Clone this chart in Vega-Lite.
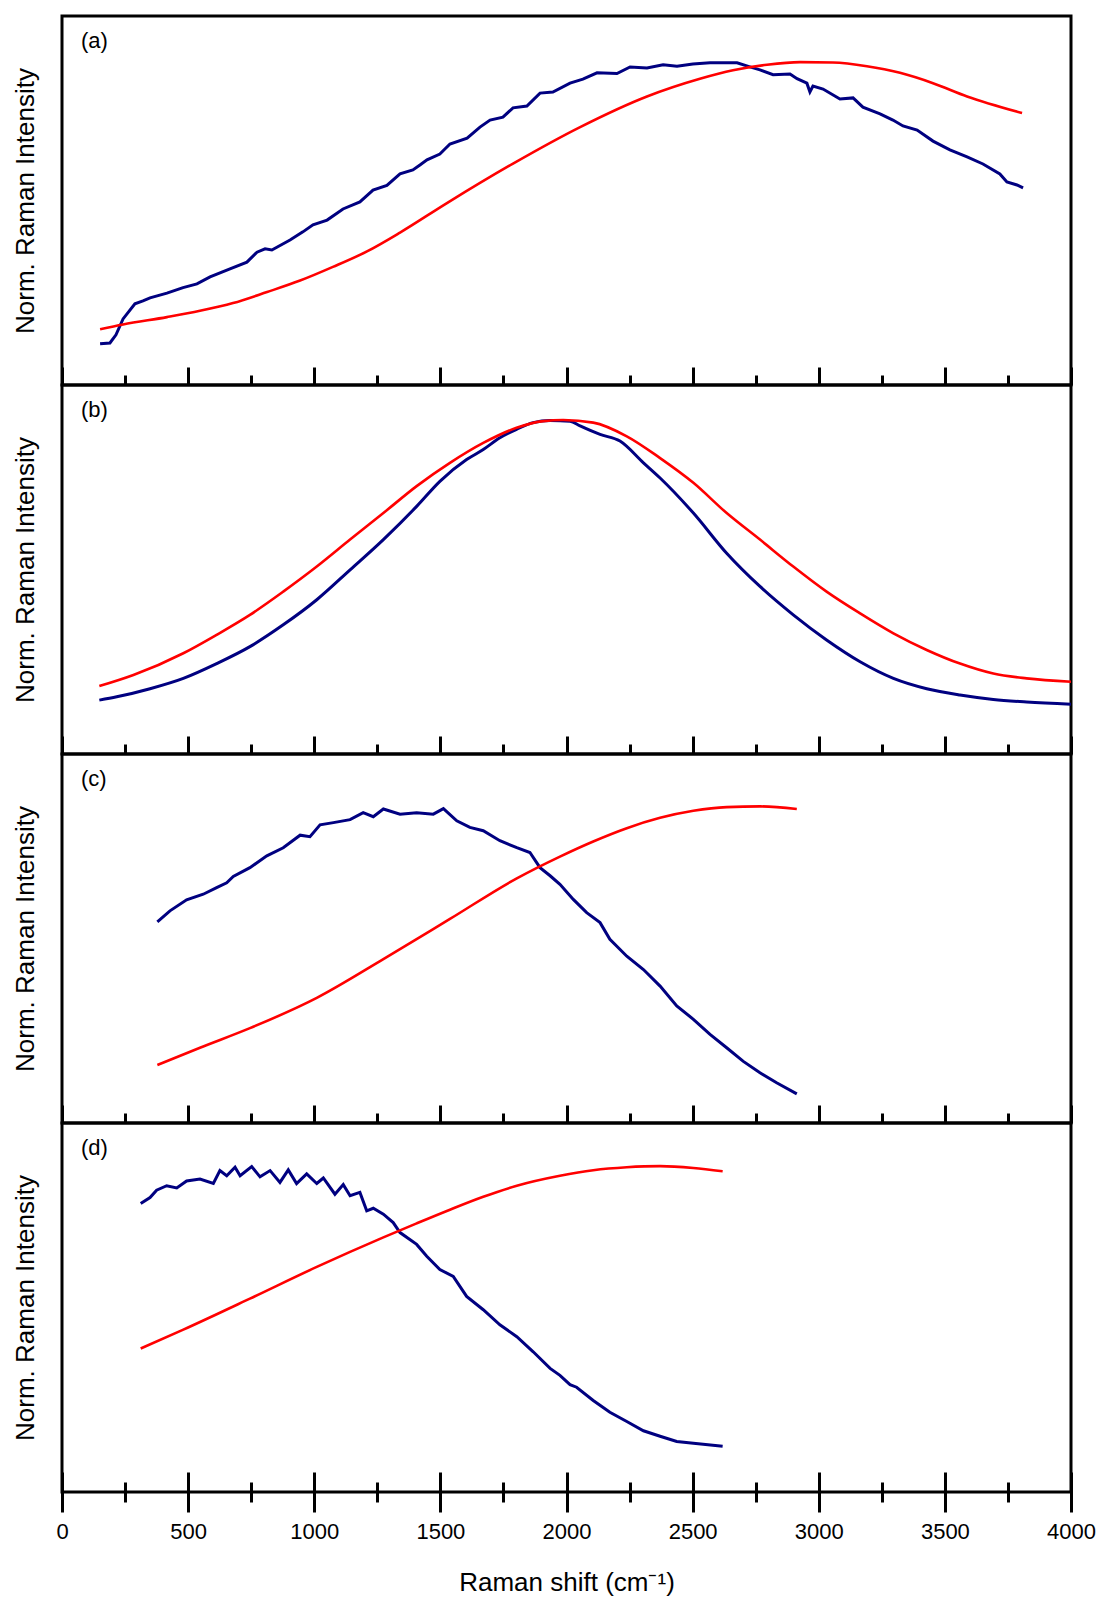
{
  "$schema": "https://vega.github.io/schema/vega-lite/v6.json",
  "background": "white",
  "padding": {"left": 10, "top": 14, "right": 0, "bottom": 0},
  "spacing": 0,
  "bounds": "flush",
  "config": {
    "view": {"stroke": "black", "strokeWidth": 3},
    "font": "Liberation Sans",
    "axis": {"labelFont": "Liberation Sans", "titleFont": "Liberation Sans", "labelColor": "black", "titleColor": "black", "tickColor": "black", "grid": false, "domain": false}
  },
  "datasets": {
    "a_meas": [
      {"shift":151,"intensity":0.112},{"shift":190,"intensity":0.114},{"shift":214,"intensity":0.136},{"shift":242,"intensity":0.179},{"shift":289,"intensity":0.220},{"shift":321,"intensity":0.228},{"shift":349,"intensity":0.236},{"shift":416,"intensity":0.249},{"shift":480,"intensity":0.264},{"shift":535,"intensity":0.274},{"shift":587,"intensity":0.293},{"shift":666,"intensity":0.315},{"shift":733,"intensity":0.333},{"shift":773,"intensity":0.360},{"shift":805,"intensity":0.369},{"shift":832,"intensity":0.366},{"shift":904,"intensity":0.393},{"shift":955,"intensity":0.415},{"shift":995,"intensity":0.434},{"shift":1051,"intensity":0.447},{"shift":1114,"intensity":0.477},{"shift":1181,"intensity":0.496},{"shift":1233,"intensity":0.528},{"shift":1288,"intensity":0.541},{"shift":1340,"intensity":0.572},{"shift":1391,"intensity":0.583},{"shift":1419,"intensity":0.596},{"shift":1447,"intensity":0.610},{"shift":1498,"intensity":0.626},{"shift":1538,"intensity":0.653},{"shift":1606,"intensity":0.669},{"shift":1657,"intensity":0.699},{"shift":1697,"intensity":0.718},{"shift":1748,"intensity":0.726},{"shift":1788,"intensity":0.751},{"shift":1843,"intensity":0.756},{"shift":1895,"intensity":0.791},{"shift":1946,"intensity":0.794},{"shift":2014,"intensity":0.818},{"shift":2065,"intensity":0.829},{"shift":2121,"intensity":0.846},{"shift":2200,"intensity":0.844},{"shift":2252,"intensity":0.862},{"shift":2319,"intensity":0.859},{"shift":2383,"intensity":0.868},{"shift":2438,"intensity":0.864},{"shift":2501,"intensity":0.870},{"shift":2569,"intensity":0.873},{"shift":2608,"intensity":0.873},{"shift":2676,"intensity":0.873},{"shift":2727,"intensity":0.862},{"shift":2767,"intensity":0.854},{"shift":2819,"intensity":0.841},{"shift":2886,"intensity":0.843},{"shift":2914,"intensity":0.830},{"shift":2953,"intensity":0.818},{"shift":2965,"intensity":0.794},{"shift":2977,"intensity":0.810},{"shift":3017,"intensity":0.802},{"shift":3084,"intensity":0.775},{"shift":3136,"intensity":0.778},{"shift":3175,"intensity":0.753},{"shift":3243,"intensity":0.735},{"shift":3294,"intensity":0.718},{"shift":3334,"intensity":0.702},{"shift":3390,"intensity":0.691},{"shift":3453,"intensity":0.661},{"shift":3520,"intensity":0.637},{"shift":3588,"intensity":0.618},{"shift":3651,"intensity":0.599},{"shift":3718,"intensity":0.572},{"shift":3746,"intensity":0.550},{"shift":3786,"intensity":0.542},{"shift":3810,"intensity":0.534}
    ],
    "a_fit": [
      {"shift":151,"intensity":0.151},{"shift":242,"intensity":0.164},{"shift":416,"intensity":0.184},{"shift":547,"intensity":0.201},{"shift":678,"intensity":0.222},{"shift":813,"intensity":0.252},{"shift":944,"intensity":0.283},{"shift":1074,"intensity":0.320},{"shift":1209,"intensity":0.362},{"shift":1340,"intensity":0.413},{"shift":1526,"intensity":0.493},{"shift":1788,"intensity":0.600},{"shift":2054,"intensity":0.699},{"shift":2319,"intensity":0.782},{"shift":2529,"intensity":0.830},{"shift":2660,"intensity":0.853},{"shift":2795,"intensity":0.868},{"shift":2926,"intensity":0.875},{"shift":3056,"intensity":0.874},{"shift":3191,"intensity":0.864},{"shift":3322,"intensity":0.846},{"shift":3453,"intensity":0.818},{"shift":3588,"intensity":0.782},{"shift":3806,"intensity":0.737}
    ],
    "b_meas": [
      {"shift":148,"intensity":0.146},{"shift":217,"intensity":0.155},{"shift":349,"intensity":0.177},{"shift":481,"intensity":0.205},{"shift":613,"intensity":0.245},{"shift":745,"intensity":0.291},{"shift":877,"intensity":0.350},{"shift":1010,"intensity":0.418},{"shift":1142,"intensity":0.499},{"shift":1274,"intensity":0.581},{"shift":1406,"intensity":0.671},{"shift":1498,"intensity":0.739},{"shift":1604,"intensity":0.798},{"shift":1670,"intensity":0.825},{"shift":1736,"intensity":0.857},{"shift":1802,"intensity":0.880},{"shift":1868,"intensity":0.898},{"shift":1935,"intensity":0.904},{"shift":2014,"intensity":0.902},{"shift":2054,"intensity":0.889},{"shift":2133,"intensity":0.866},{"shift":2212,"intensity":0.848},{"shift":2305,"intensity":0.789},{"shift":2371,"intensity":0.748},{"shift":2503,"intensity":0.653},{"shift":2635,"intensity":0.544},{"shift":2767,"intensity":0.454},{"shift":2899,"intensity":0.377},{"shift":3031,"intensity":0.309},{"shift":3164,"intensity":0.250},{"shift":3296,"intensity":0.205},{"shift":3428,"intensity":0.177},{"shift":3560,"intensity":0.160},{"shift":3692,"intensity":0.148},{"shift":3824,"intensity":0.141},{"shift":4000,"intensity":0.135}
    ],
    "b_fit": [
      {"shift":148,"intensity":0.184},{"shift":283,"intensity":0.214},{"shift":481,"intensity":0.273},{"shift":613,"intensity":0.323},{"shift":745,"intensity":0.377},{"shift":877,"intensity":0.440},{"shift":1010,"intensity":0.508},{"shift":1142,"intensity":0.581},{"shift":1274,"intensity":0.653},{"shift":1406,"intensity":0.726},{"shift":1538,"intensity":0.789},{"shift":1670,"intensity":0.843},{"shift":1802,"intensity":0.884},{"shift":1908,"intensity":0.902},{"shift":1987,"intensity":0.905},{"shift":2106,"intensity":0.898},{"shift":2239,"intensity":0.861},{"shift":2371,"intensity":0.802},{"shift":2503,"intensity":0.735},{"shift":2635,"intensity":0.653},{"shift":2767,"intensity":0.581},{"shift":2899,"intensity":0.508},{"shift":3031,"intensity":0.440},{"shift":3164,"intensity":0.381},{"shift":3296,"intensity":0.327},{"shift":3428,"intensity":0.282},{"shift":3560,"intensity":0.245},{"shift":3692,"intensity":0.218},{"shift":3824,"intensity":0.205},{"shift":4000,"intensity":0.196}
    ],
    "c_meas": [
      {"shift":378,"intensity":0.545},{"shift":428,"intensity":0.575},{"shift":494,"intensity":0.605},{"shift":560,"intensity":0.620},{"shift":613,"intensity":0.638},{"shift":653,"intensity":0.651},{"shift":679,"intensity":0.668},{"shift":745,"intensity":0.692},{"shift":812,"intensity":0.724},{"shift":877,"intensity":0.746},{"shift":944,"intensity":0.780},{"shift":983,"intensity":0.776},{"shift":1023,"intensity":0.808},{"shift":1076,"intensity":0.814},{"shift":1142,"intensity":0.822},{"shift":1194,"intensity":0.841},{"shift":1234,"intensity":0.830},{"shift":1274,"intensity":0.851},{"shift":1340,"intensity":0.837},{"shift":1406,"intensity":0.841},{"shift":1472,"intensity":0.837},{"shift":1512,"intensity":0.852},{"shift":1565,"intensity":0.819},{"shift":1617,"intensity":0.801},{"shift":1670,"intensity":0.792},{"shift":1736,"intensity":0.765},{"shift":1803,"intensity":0.746},{"shift":1855,"intensity":0.733},{"shift":1895,"intensity":0.692},{"shift":1935,"intensity":0.670},{"shift":1974,"intensity":0.647},{"shift":2027,"intensity":0.606},{"shift":2080,"intensity":0.570},{"shift":2133,"intensity":0.543},{"shift":2172,"intensity":0.498},{"shift":2239,"intensity":0.452},{"shift":2305,"intensity":0.416},{"shift":2371,"intensity":0.371},{"shift":2437,"intensity":0.317},{"shift":2503,"intensity":0.281},{"shift":2569,"intensity":0.240},{"shift":2635,"intensity":0.204},{"shift":2701,"intensity":0.167},{"shift":2767,"intensity":0.136},{"shift":2833,"intensity":0.109},{"shift":2913,"intensity":0.079}
    ],
    "c_fit": [
      {"shift":378,"intensity":0.157},{"shift":547,"intensity":0.204},{"shift":745,"intensity":0.257},{"shift":1010,"intensity":0.339},{"shift":1274,"intensity":0.444},{"shift":1538,"intensity":0.553},{"shift":1803,"intensity":0.663},{"shift":1974,"intensity":0.722},{"shift":2106,"intensity":0.763},{"shift":2239,"intensity":0.799},{"shift":2371,"intensity":0.827},{"shift":2503,"intensity":0.846},{"shift":2635,"intensity":0.856},{"shift":2767,"intensity":0.858},{"shift":2913,"intensity":0.851}
    ],
    "d_meas": [
      {"shift":312,"intensity":0.782},{"shift":349,"intensity":0.798},{"shift":375,"intensity":0.818},{"shift":415,"intensity":0.830},{"shift":455,"intensity":0.824},{"shift":494,"intensity":0.843},{"shift":547,"intensity":0.848},{"shift":600,"intensity":0.836},{"shift":626,"intensity":0.871},{"shift":653,"intensity":0.857},{"shift":686,"intensity":0.880},{"shift":706,"intensity":0.857},{"shift":752,"intensity":0.882},{"shift":785,"intensity":0.854},{"shift":825,"intensity":0.871},{"shift":864,"intensity":0.839},{"shift":897,"intensity":0.873},{"shift":930,"intensity":0.836},{"shift":970,"intensity":0.862},{"shift":1010,"intensity":0.836},{"shift":1036,"intensity":0.851},{"shift":1082,"intensity":0.807},{"shift":1115,"intensity":0.833},{"shift":1142,"intensity":0.803},{"shift":1181,"intensity":0.812},{"shift":1208,"intensity":0.762},{"shift":1234,"intensity":0.769},{"shift":1274,"intensity":0.753},{"shift":1313,"intensity":0.730},{"shift":1340,"intensity":0.703},{"shift":1406,"intensity":0.671},{"shift":1446,"intensity":0.639},{"shift":1498,"intensity":0.603},{"shift":1551,"intensity":0.584},{"shift":1604,"intensity":0.530},{"shift":1670,"intensity":0.494},{"shift":1736,"intensity":0.453},{"shift":1803,"intensity":0.421},{"shift":1868,"intensity":0.380},{"shift":1935,"intensity":0.335},{"shift":1974,"intensity":0.316},{"shift":2014,"intensity":0.291},{"shift":2040,"intensity":0.284},{"shift":2106,"intensity":0.248},{"shift":2172,"intensity":0.216},{"shift":2239,"intensity":0.191},{"shift":2305,"intensity":0.166},{"shift":2371,"intensity":0.151},{"shift":2437,"intensity":0.137},{"shift":2503,"intensity":0.132},{"shift":2619,"intensity":0.124}
    ],
    "d_fit": [
      {"shift":312,"intensity":0.389},{"shift":481,"intensity":0.440},{"shift":745,"intensity":0.524},{"shift":1010,"intensity":0.610},{"shift":1274,"intensity":0.690},{"shift":1406,"intensity":0.728},{"shift":1538,"intensity":0.765},{"shift":1670,"intensity":0.800},{"shift":1803,"intensity":0.830},{"shift":1974,"intensity":0.857},{"shift":2106,"intensity":0.872},{"shift":2239,"intensity":0.880},{"shift":2371,"intensity":0.883},{"shift":2503,"intensity":0.878},{"shift":2619,"intensity":0.869}
    ]
  },
  "vconcat": [
    {
      "width": 1009, "height": 369,
      "layer": [
        {"data": {"name": "a_meas"}, "mark": {"type": "line", "color": "#000080", "strokeWidth": 3},
         "encoding": {
           "x": {"field": "shift", "type": "quantitative", "scale": {"domain": [0, 4000], "nice": false, "zero": false},
                 "axis": {"orient": "bottom", "values": [0,500,1000,1500,2000,2500,3000,3500,4000], "offset": -18, "tickSize": 18, "tickWidth": 3, "labels": false, "title": null}},
           "y": {"field": "intensity", "type": "quantitative", "scale": {"domain": [0, 1], "nice": false},
                 "axis": {"title": "Norm. Raman Intensity", "labels": false, "ticks": false, "titleFontSize": 26, "titleFontWeight": "normal", "titlePadding": 24}}}},
        {"data": {"name": "a_fit"}, "mark": {"type": "line", "color": "#FF0000", "strokeWidth": 2.6, "interpolate": "monotone"},
         "encoding": {
           "x": {"field": "shift", "type": "quantitative",
                 "axis": {"orient": "bottom", "values": [250,750,1250,1750,2250,2750,3250,3750], "offset": -10, "tickSize": 10, "tickWidth": 3, "labels": false, "title": null}},
           "y": {"field": "intensity", "type": "quantitative", "axis": null}}},
        {"data": {"values": [{"label": "(a)", "shift": 75, "intensity": 0.933}]}, "mark": {"type": "text", "align": "left", "baseline": "middle", "fontSize": 22, "color": "black"},
         "encoding": {"x": {"field": "shift", "type": "quantitative", "axis": null}, "y": {"field": "intensity", "type": "quantitative", "axis": null}, "text": {"field": "label"}}}
      ],
      "resolve": {"axis": {"x": "independent", "y": "independent"}}
    },
    {
      "width": 1009, "height": 369,
      "layer": [
        {"data": {"name": "b_meas"}, "mark": {"type": "line", "color": "#000080", "strokeWidth": 3, "interpolate": "monotone"},
         "encoding": {
           "x": {"field": "shift", "type": "quantitative", "scale": {"domain": [0, 4000], "nice": false, "zero": false},
                 "axis": {"orient": "bottom", "values": [0,500,1000,1500,2000,2500,3000,3500,4000], "offset": -18, "tickSize": 18, "tickWidth": 3, "labels": false, "title": null}},
           "y": {"field": "intensity", "type": "quantitative", "scale": {"domain": [0, 1], "nice": false},
                 "axis": {"title": "Norm. Raman Intensity", "labels": false, "ticks": false, "titleFontSize": 26, "titleFontWeight": "normal", "titlePadding": 24}}}},
        {"data": {"name": "b_fit"}, "mark": {"type": "line", "color": "#FF0000", "strokeWidth": 2.6, "interpolate": "monotone"},
         "encoding": {
           "x": {"field": "shift", "type": "quantitative",
                 "axis": {"orient": "bottom", "values": [250,750,1250,1750,2250,2750,3250,3750], "offset": -10, "tickSize": 10, "tickWidth": 3, "labels": false, "title": null}},
           "y": {"field": "intensity", "type": "quantitative", "axis": null}}},
        {"data": {"values": [{"label": "(b)", "shift": 75, "intensity": 0.933}]}, "mark": {"type": "text", "align": "left", "baseline": "middle", "fontSize": 22, "color": "black"},
         "encoding": {"x": {"field": "shift", "type": "quantitative", "axis": null}, "y": {"field": "intensity", "type": "quantitative", "axis": null}, "text": {"field": "label"}}}
      ],
      "resolve": {"axis": {"x": "independent", "y": "independent"}}
    },
    {
      "width": 1009, "height": 369,
      "layer": [
        {"data": {"name": "c_meas"}, "mark": {"type": "line", "color": "#000080", "strokeWidth": 3},
         "encoding": {
           "x": {"field": "shift", "type": "quantitative", "scale": {"domain": [0, 4000], "nice": false, "zero": false},
                 "axis": {"orient": "bottom", "values": [0,500,1000,1500,2000,2500,3000,3500,4000], "offset": -18, "tickSize": 18, "tickWidth": 3, "labels": false, "title": null}},
           "y": {"field": "intensity", "type": "quantitative", "scale": {"domain": [0, 1], "nice": false},
                 "axis": {"title": "Norm. Raman Intensity", "labels": false, "ticks": false, "titleFontSize": 26, "titleFontWeight": "normal", "titlePadding": 24}}}},
        {"data": {"name": "c_fit"}, "mark": {"type": "line", "color": "#FF0000", "strokeWidth": 2.6, "interpolate": "monotone"},
         "encoding": {
           "x": {"field": "shift", "type": "quantitative",
                 "axis": {"orient": "bottom", "values": [250,750,1250,1750,2250,2750,3250,3750], "offset": -10, "tickSize": 10, "tickWidth": 3, "labels": false, "title": null}},
           "y": {"field": "intensity", "type": "quantitative", "axis": null}}},
        {"data": {"values": [{"label": "(c)", "shift": 75, "intensity": 0.933}]}, "mark": {"type": "text", "align": "left", "baseline": "middle", "fontSize": 22, "color": "black"},
         "encoding": {"x": {"field": "shift", "type": "quantitative", "axis": null}, "y": {"field": "intensity", "type": "quantitative", "axis": null}, "text": {"field": "label"}}}
      ],
      "resolve": {"axis": {"x": "independent", "y": "independent"}}
    },
    {
      "width": 1009, "height": 369,
      "layer": [
        {"data": {"name": "d_meas"}, "mark": {"type": "line", "color": "#000080", "strokeWidth": 3},
         "encoding": {
           "x": {"field": "shift", "type": "quantitative", "scale": {"domain": [0, 4000], "nice": false, "zero": false},
                 "axis": {"orient": "bottom", "values": [0,500,1000,1500,2000,2500,3000,3500,4000], "offset": -20, "tickSize": 40, "tickWidth": 3,
                          "labels": true, "format": "d", "labelFontSize": 22, "labelPadding": 9, "labelFlush": false, "labelOverlap": false,
                          "title": "Raman shift (cm⁻¹)", "titleFontSize": 26, "titleFontWeight": "normal", "titlePadding": 27}},
           "y": {"field": "intensity", "type": "quantitative", "scale": {"domain": [0, 1], "nice": false},
                 "axis": {"title": "Norm. Raman Intensity", "labels": false, "ticks": false, "titleFontSize": 26, "titleFontWeight": "normal", "titlePadding": 24}}}},
        {"data": {"name": "d_fit"}, "mark": {"type": "line", "color": "#FF0000", "strokeWidth": 2.6, "interpolate": "monotone"},
         "encoding": {
           "x": {"field": "shift", "type": "quantitative",
                 "axis": {"orient": "bottom", "values": [250,750,1250,1750,2250,2750,3250,3750], "offset": -10, "tickSize": 20, "tickWidth": 3, "labels": false, "title": null}},
           "y": {"field": "intensity", "type": "quantitative", "axis": null}}},
        {"data": {"values": [{"label": "(d)", "shift": 75, "intensity": 0.933}]}, "mark": {"type": "text", "align": "left", "baseline": "middle", "fontSize": 22, "color": "black"},
         "encoding": {"x": {"field": "shift", "type": "quantitative", "axis": null}, "y": {"field": "intensity", "type": "quantitative", "axis": null}, "text": {"field": "label"}}}
      ],
      "resolve": {"axis": {"x": "independent", "y": "independent"}}
    }
  ]
}
